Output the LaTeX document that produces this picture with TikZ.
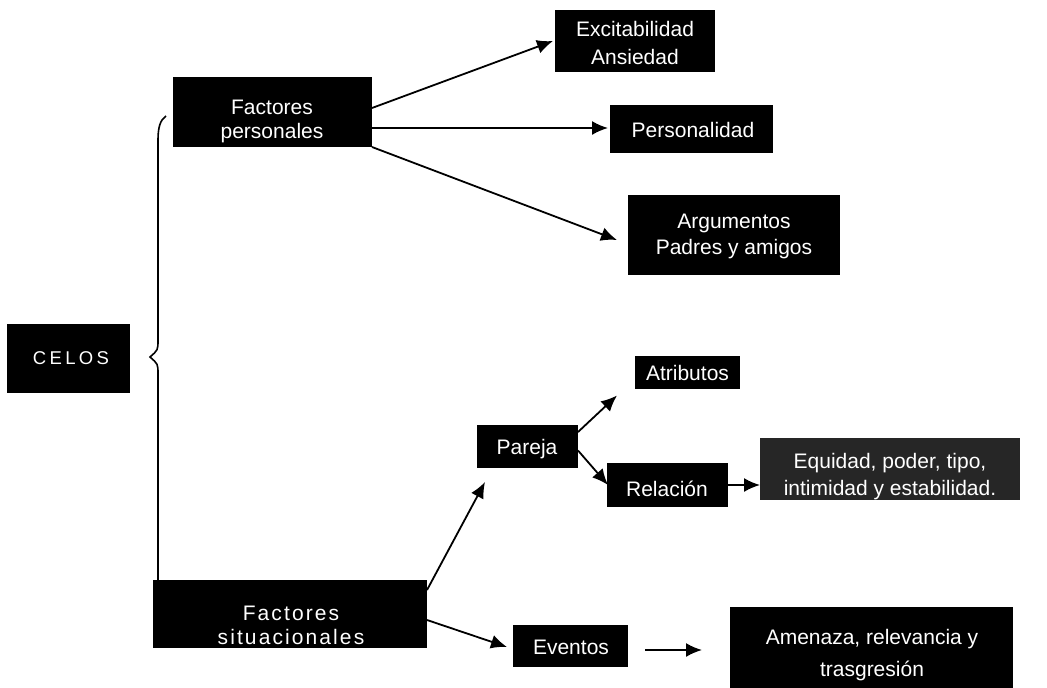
\documentclass[tikz,border=0pt]{standalone}
\usepackage{fontspec}
\setmainfont{Liberation Sans}
\usetikzlibrary{arrows.meta,calc}
\begin{document}
\begin{tikzpicture}[x=1pt,y=-1pt,
  blk/.style={fill=black, draw=none, inner sep=0pt, outer sep=0pt},
  txt/.style={text=white, inner sep=0pt, align=center, font=\fontsize{21}{26}\selectfont},
  arr/.style={line width=1.8pt, -{Latex[length=16pt,width=14pt]}},
  brace/.style={line width=1.6pt}
]
\useasboundingbox (0,0) rectangle (1047,688);

% boxes
\node[blk, minimum width=123pt, minimum height=69pt] (celos) at (68.5,358.5) {};
\node[txt, font=\fontsize{18.5}{22}\selectfont\addfontfeature{LetterSpace=18}] (celos-t) at (71,358) {CELOS};

\node[blk, minimum width=199pt, minimum height=70pt] (fp) at (272.5,112) {};
\node[txt, font=\fontsize{21}{24}\selectfont] (fp-t) at (272,121) {Factores\\personales};

\node[blk, minimum width=160pt, minimum height=62pt] (exc) at (635,41) {};
\node[txt, font=\fontsize{21}{28}\selectfont] (exc-t) at (635,43) {Excitabilidad\\Ansiedad};

\node[blk, minimum width=163pt, minimum height=48pt] (pers) at (691.5,129) {};
\node[txt] (pers-t) at (693,130) {Personalidad};

\node[blk, minimum width=212pt, minimum height=80pt] (arg) at (734,235) {};
\node[txt, font=\fontsize{21}{26}\selectfont] (arg-t) at (734,236) {Argumentos\\Padres y amigos};

\node[blk, minimum width=274pt, minimum height=68pt] (fs) at (290,614) {};
\node[txt, font=\fontsize{21}{24}\selectfont\addfontfeature{LetterSpace=10}] (fs-t) at (291,625) {Factores\\situacionales};

\node[blk, minimum width=101pt, minimum height=43pt] (par) at (527.5,446.5) {};
\node[txt] (par-t) at (527,449) {Pareja};

\node[blk, minimum width=105pt, minimum height=33pt] (atr) at (687.5,372) {};
\node[txt] (atr-t) at (687.5,373) {Atributos};

\node[blk, minimum width=121pt, minimum height=44pt] (rel) at (667.5,485) {};
\node[txt] (rel-t) at (667,489) {Relación};

\node[blk, fill=black!85, minimum width=260pt, minimum height=62pt] (eq) at (890,469) {};
\node[txt, font=\fontsize{21}{27}\selectfont] (eq-t) at (890,477) {Equidad, poder, tipo,\\intimidad y estabilidad.};

\node[blk, minimum width=115pt, minimum height=42pt] (ev) at (570.5,646) {};
\node[txt] (ev-t) at (571,647) {Eventos};

\node[blk, minimum width=283pt, minimum height=82pt] (am) at (871.5,648) {};
\node[txt, font=\fontsize{21}{32}\selectfont] (am-t) at (872,655) {Amenaza, relevancia y\\trasgresión};

% brace
\draw[brace] (166,116) .. controls (160,120) and (158,128) .. (158,140)
  -- (158,340) .. controls (158,350) .. (150,357) .. controls (158,364) .. (158,374)
  -- (158,580);

% connectors
\draw[arr] ([yshift=4pt]fp.east) -- ([xshift=-2pt]exc.west);
\draw[arr] ([yshift=-16pt]fp.east) -- ([xshift=-2pt,yshift=1pt]pers.west);
\draw[arr] (fp.south east) -- ([xshift=-11pt,yshift=-5pt]arg.west);
\draw[arr] ([yshift=-10pt]fs.north east) -- ([xshift=8pt,yshift=-14pt]par.south west);
\draw[arr] ([yshift=-6pt]fs.east) -- ([xshift=-6pt,yshift=-1pt]ev.west);
\draw[arr] ([yshift=-7pt]par.north east) -- ([xshift=-18pt,yshift=-7pt]atr.south west);
\draw[arr] ([yshift=-4pt]par.east) -- ([xshift=1pt]rel.west);
\draw[arr] (rel.east) -- (rel.east -| eq.west);
\draw[arr] ([xshift=17pt,yshift=-4pt]ev.east) -- ([xshift=-28pt,yshift=-4pt]ev.east -| am.west);
\end{tikzpicture}
\end{document}
